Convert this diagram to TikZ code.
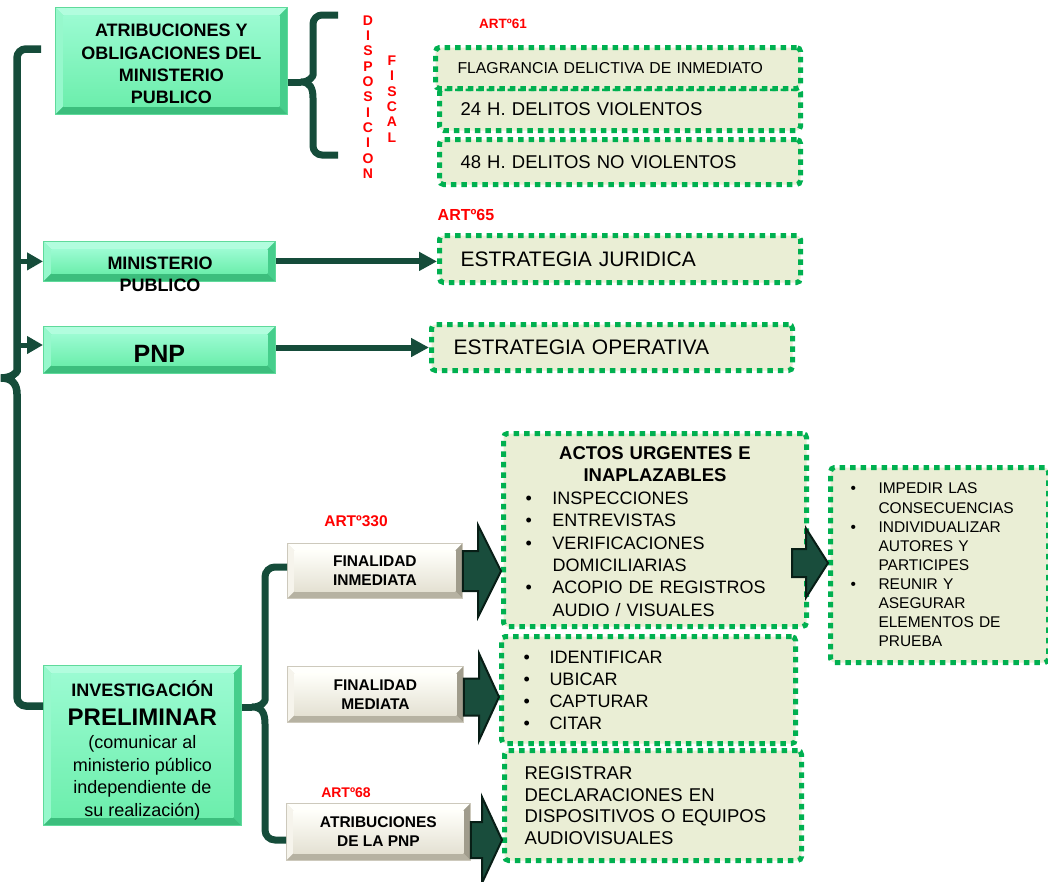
\documentclass[tikz,border=0pt]{standalone}
\usepackage{fontspec}
\setmainfont{Liberation Sans}
\usetikzlibrary{arrows.meta,calc}
\definecolor{conngreen}{RGB}{21,76,58}
\definecolor{arrfill}{RGB}{25,77,60}
\definecolor{arrline}{RGB}{8,30,22}
\definecolor{dotg}{RGB}{0,176,80}
\definecolor{cream}{RGB}{234,238,213}
\definecolor{artred}{RGB}{255,0,0}
\definecolor{gTop}{RGB}{178,253,222}
\definecolor{gLeft}{RGB}{150,248,204}
\definecolor{gRight}{RGB}{70,206,140}
\definecolor{gBot}{RGB}{60,190,125}
\definecolor{gFaceTop}{RGB}{155,251,210}
\definecolor{gFaceBot}{RGB}{108,238,172}
\definecolor{gEdge}{RGB}{95,218,155}
\definecolor{wTop}{RGB}{255,255,252}
\definecolor{wLeft}{RGB}{246,244,236}
\definecolor{wRight}{RGB}{160,156,140}
\definecolor{wBot}{RGB}{182,178,162}
\definecolor{wFaceTop}{RGB}{255,255,250}
\definecolor{wFaceBot}{RGB}{228,225,211}
\definecolor{wEdge}{RGB}{205,201,188}

\newcommand\bevelpic[7]{%
 \fill[#2] (path picture bounding box.north west) -- (path picture bounding box.north east) -- ([shift={(-#1,-#1)}]path picture bounding box.north east) -- ([shift={(#1,-#1)}]path picture bounding box.north west) -- cycle;
 \fill[#3] (path picture bounding box.north west) -- ([shift={(#1,-#1)}]path picture bounding box.north west) -- ([shift={(#1,#1)}]path picture bounding box.south west) -- (path picture bounding box.south west) -- cycle;
 \fill[#4] (path picture bounding box.north east) -- (path picture bounding box.south east) -- ([shift={(-#1,#1)}]path picture bounding box.south east) -- ([shift={(-#1,-#1)}]path picture bounding box.north east) -- cycle;
 \fill[#5] (path picture bounding box.south west) -- ([shift={(#1,#1)}]path picture bounding box.south west) -- ([shift={(-#1,#1)}]path picture bounding box.south east) -- (path picture bounding box.south east) -- cycle;
 \shade[top color=#6, bottom color=#7] ([shift={(#1,-#1)}]path picture bounding box.north west) rectangle ([shift={(-#1,#1)}]path picture bounding box.south east);
}
\newcommand\mybul[1]{\noindent\makebox[#1][l]{\textbullet}}
\newcommand\mygap[1]{\noindent\hspace*{#1}}
\newcommand\blockarr[6]{%
 \pgfmathsetmacro\baA{#3-#4}\pgfmathsetmacro\baB{#3+#4}%
 \pgfmathsetmacro\baC{#3-#5}\pgfmathsetmacro\baD{#3+#5}%
 \path (#2) ++(-#6,0) coordinate (ba-base);
 \filldraw[blockarrow] (#1 |- 0,\baA) -- (ba-base |- 0,\baA) -- (ba-base |- 0,\baC) -- (#2 |- 0,#3) -- (ba-base |- 0,\baD) -- (ba-base |- 0,\baB) -- (#1 |- 0,\baB) -- cycle;
}

\begin{document}
\begin{tikzpicture}[x=1pt,y=-1pt,
 greenbox/.style={anchor=north west, inner sep=0pt, fill=gFaceBot, draw=gEdge, line width=0.8pt, align=center, text=black,
   path picture={\bevelpic{8pt}{gTop}{gLeft}{gRight}{gBot}{gFaceTop}{gFaceBot}}},
 graybox/.style={anchor=north west, inner sep=0pt, fill=wFaceBot, draw=wEdge, line width=0.8pt, align=center, text=black,
   font=\bfseries\fontsize{15.5}{19}\selectfont,
   path picture={\bevelpic{7pt}{wTop}{wLeft}{wRight}{wBot}{wFaceTop}{wFaceBot}}},
 dotbox/.style={anchor=north west, draw=dotg, line width=5pt, dash pattern=on 5.5pt off 5pt, fill=cream,
   rounded corners=4pt, inner ysep=0pt, align=left, text=black},
 artlabel/.style={text=artred, inner sep=0pt},
 linkline/.style={draw=conngreen, line width=#1},
 blockarrow/.style={fill=arrfill, draw=arrline, line width=2pt, line join=miter}
]
\useasboundingbox[fill=white] (0,0) rectangle (1048,881);

% ---------- green boxes ----------
\node[greenbox, minimum width=232pt, minimum height=107pt, font=\bfseries\fontsize{18}{22.3}\selectfont] (atrib) at (55,7)
 {\rule{0pt}{19pt}ATRIBUCIONES Y\\OBLIGACIONES DEL\\MINISTERIO\\PUBLICO};
\node[greenbox, minimum width=232pt, minimum height=40pt] (mp) at (43,241) {};
\node[font=\bfseries\fontsize{18}{22}\selectfont, align=center, inner sep=0pt] (mptext) at (160,274) {MINISTERIO\\PUBLICO};
\node[greenbox, minimum width=232pt, minimum height=47pt, font=\bfseries\fontsize{25}{28}\selectfont] (pnp) at (43,326) {\rule{0pt}{25pt}PNP};
\node[greenbox, minimum width=198pt, minimum height=160pt, font=\fontsize{18}{22.5}\selectfont] (inv) at (43,665)
 {\rule{0pt}{26pt}{\bfseries INVESTIGACIÓN}\\[6pt]{\bfseries\fontsize{24}{27}\selectfont PRELIMINAR}\\[1pt](comunicar al\\ministerio público\\independiente de\\su realización)};

% ---------- gray boxes ----------
\node[graybox, minimum width=175pt, minimum height=55pt] (fi) at (287,543) {FINALIDAD\\INMEDIATA};
\node[graybox, minimum width=176pt, minimum height=56pt] (fm) at (287,666) {FINALIDAD\\MEDIATA};
\node[graybox, minimum width=184pt, minimum height=57pt] (ap) at (286,803) {ATRIBUCIONES\\DE LA PNP};

% ---------- dotted boxes ----------
\node[dotbox, minimum width=361pt, minimum height=42pt, text width=319pt, inner xsep=21pt, font=\fontsize{18.5}{22}\selectfont] (d24) at (437,86) {24 H. DELITOS VIOLENTOS};
\node[dotbox, minimum width=365pt, minimum height=41pt, text width=321pt, inner xsep=22pt, font=\fontsize{15.8}{19}\selectfont] (flag) at (433,45) {FLAGRANCIA DELICTIVA DE INMEDIATO};
\node[dotbox, minimum width=361pt, minimum height=45pt, text width=319pt, inner xsep=21pt, font=\fontsize{18.5}{22}\selectfont] (d48) at (437,137) {48 H. DELITOS NO VIOLENTOS};
\node[dotbox, minimum width=361pt, minimum height=47pt, text width=319pt, inner xsep=21pt, font=\fontsize{21}{25}\selectfont] (ej) at (437,233) {ESTRATEGIA JURIDICA};
\node[dotbox, minimum width=361pt, minimum height=46pt, text width=317pt, inner xsep=22pt, font=\fontsize{21}{25}\selectfont] (eo) at (429,322) {ESTRATEGIA OPERATIVA};

\node[dotbox, minimum width=303pt, minimum height=193pt, text width=259pt, inner xsep=22pt, font=\fontsize{18}{22.4}\selectfont] (actos) at (501,431)
 {{\noindent\centering\bfseries\fontsize{18.5}{22.4}\selectfont\rule{0pt}{16pt}ACTOS URGENTES E\\INAPLAZABLES\par}%
  \mybul{27pt}INSPECCIONES\par
  \mybul{27pt}ENTREVISTAS\par
  \mybul{27pt}VERIFICACIONES\par
  \mygap{27pt}DOMICILIARIAS\par
  \mybul{27pt}ACOPIO DE REGISTROS\par
  \mygap{27pt}AUDIO / VISUALES};

\node[dotbox, minimum width=218pt, minimum height=195pt, text width=178pt, inner xsep=20pt, font=\fontsize{15.5}{19.1}\selectfont] (impedir) at (828,465)
 {\mybul{28pt}IMPEDIR LAS\par
  \mygap{28pt}CONSECUENCIAS\par
  \mybul{28pt}INDIVIDUALIZAR\par
  \mygap{28pt}AUTORES Y\par
  \mygap{28pt}PARTICIPES\par
  \mybul{28pt}REUNIR Y\par
  \mygap{28pt}ASEGURAR\par
  \mygap{28pt}ELEMENTOS DE\par
  \mygap{28pt}PRUEBA};

\node[dotbox, minimum width=294pt, minimum height=107pt, text width=250pt, inner xsep=22pt, font=\fontsize{18}{22}\selectfont] (ident) at (499,634)
 {\mybul{26pt}IDENTIFICAR\par
  \mybul{26pt}UBICAR\par
  \mybul{26pt}CAPTURAR\par
  \mybul{26pt}CITAR};

\node[dotbox, minimum width=297pt, minimum height=110pt, text width=257pt, inner xsep=20pt, font=\fontsize{18.5}{21.7}\selectfont] (regis) at (502,748)
 {REGISTRAR\\DECLARACIONES EN\\DISPOSITIVOS O EQUIPOS\\AUDIOVISUALES};

% ---------- red labels ----------
\node[artlabel, font=\bfseries\fontsize{13.5}{16}\selectfont] (art61) at (503,24) {ARTº61};
\node[artlabel, font=\bfseries\fontsize{16}{18}\selectfont] (art65) at (466,215) {ARTº65};
\node[artlabel, font=\bfseries\fontsize{15.5}{18}\selectfont] (art330) at (356,521) {ARTº330};
\node[artlabel, font=\bfseries\fontsize{14}{17}\selectfont] (art68) at (346,793) {ARTº68};
\node[artlabel, font=\bfseries\fontsize{14}{15.3}\selectfont, align=center] (disp) at (368,97) {D\\I\\S\\P\\O\\S\\I\\C\\I\\O\\N};
\node[artlabel, font=\bfseries\fontsize{14}{15.4}\selectfont, align=center] (fisc) at (392,99) {F\\I\\S\\C\\A\\L};

% ---------- main left brace ----------
\coordinate (mbtop) at (41,49);
\coordinate (spine) at (17,0);
\draw[linkline=7.5pt, rounded corners=9pt] (mbtop) -- (17,49) -- (17,362) [sharp corners]
  .. controls (17,372) and (12,378) .. (1,378) .. controls (12,378) and (17,384) .. (17,394)
  [rounded corners=9pt] -- (17,706) -- (inv.west |- 0,706);
\draw[linkline=5pt, -{Triangle[length=16pt,width=17pt]}] (spine |- mp.west) -- (mp.west);
\draw[linkline=5pt, -{Triangle[length=16pt,width=17pt]}] (spine |- 0,345) -- (pnp.west |- 0,345);

% ---------- arrows to strategies ----------
\draw[linkline=6pt, -{Triangle[length=18pt,width=18pt]}] (mp.east) -- (mp.east -| ej.west);
\draw[linkline=6pt, -{Triangle[length=18pt,width=18pt]}] (pnp.east |- eo.west) -- (eo.west);

% ---------- brace right of atribuciones ----------
\coordinate (bA1) at (338,15);
\coordinate (bA2) at (338,155);
\coordinate (bAtip) at (301,82);
\draw[linkline=7pt, rounded corners=9pt] (bA1) -- (313,15) -- (313,66) [sharp corners]
  .. controls (313,76) and (310,82) .. (bAtip) .. controls (310,82) and (313,88) .. (313,98)
  [rounded corners=9pt] -- (313,155) -- (bA2);
\draw[linkline=7pt] (atrib.east |- bAtip) -- (bAtip);

% ---------- brace right of investigacion ----------
\coordinate (bBtip) at (252,707);
\draw[linkline=7pt, rounded corners=10pt] (fi.west |- 0,567) -- (265,567) -- (265,690) [sharp corners]
  .. controls (265,701) and (262,707) .. (bBtip) .. controls (262,707) and (265,713) .. (265,724)
  [rounded corners=10pt] -- (265,840) -- (ap.west |- 0,840);
\draw[linkline=7pt] (inv.east |- bBtip) -- (bBtip);

% ---------- block arrows ----------
\blockarr{fi.east}{actos.west}{571}{20}{46}{23}
\blockarr{fm.east}{ident.west}{697}{18.5}{43.5}{20}
\blockarr{ap.east}{regis.west}{840}{18}{43}{20}
\path (actos.east) ++(-17,0) coordinate (aiS);
\blockarr{aiS}{impedir.west}{563}{14}{34.5}{22}
\end{tikzpicture}
\end{document}
